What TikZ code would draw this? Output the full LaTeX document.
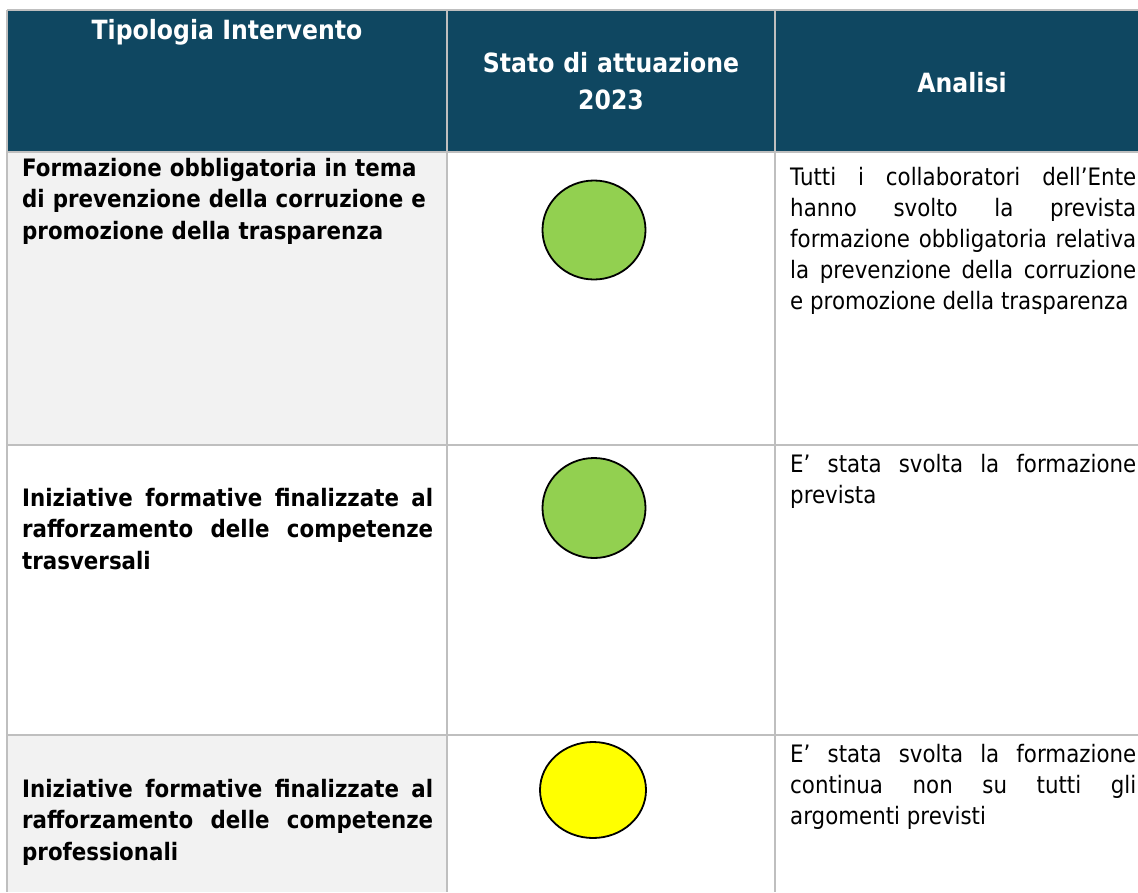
\documentclass[tikz,border=0pt]{standalone}
\usepackage{fontspec}
\setmainfont{DejaVu Sans}[FakeStretch=0.89]
\usepackage{xcolor}
\usepackage{tikz}
\usetikzlibrary{shapes.geometric}

\definecolor{hdrblue}{HTML}{0F4761}
\definecolor{cellgray}{HTML}{F2F2F2}
\definecolor{gridgray}{HTML}{BFBFBF}
\definecolor{okgreen}{HTML}{92D050}
\definecolor{partyellow}{HTML}{FFFF00}

\tolerance=10000
\hbadness=10000
\hyphenpenalty=10000

\begin{document}
\begin{tikzpicture}[
    x=1pt, y=-1pt,
    head/.style={text=white, font=\fontsize{26.5}{37}\selectfont\bfseries, align=center, inner sep=0pt, anchor=base},
    tipo/.style={font=\fontsize{24}{31.5}\selectfont\bfseries, text width=411pt, inner sep=0pt, anchor=base west},
    analisi/.style={font=\fontsize{24}{31}\selectfont, text width=346pt, align=justify, inner sep=0pt, anchor=base west},
    stato/.style={ellipse, draw=black, line width=1.8pt, inner sep=0pt, minimum width=103pt, minimum height=99pt},
    tabline/.style={draw=gridgray, line width=1.5pt}
]
    % page
    \fill[white] (0,0) rectangle (1138,892);
    \useasboundingbox (0,0) rectangle (1138,892);

    % cell fills
    \fill[hdrblue] (7,10) rectangle (1138,152);
    \fill[cellgray] (7,152) rectangle (447,445);
    \fill[cellgray] (7,735) rectangle (447,892);

    % table rules
    \foreach \y in {10,152,445,735}
        \draw[tabline] (7,\y) -- (1138,\y);
    \foreach \x in {7,447,775}
        \draw[tabline] (\x,10) -- (\x,892);

    % header
    \node[head] (hTipo) at (227,39) {Tipologia Intervento};
    \node[head, text width=320pt] (hStato) at (611,72) {Stato di attuazione\\2023};
    \node[head] (hAnalisi) at (962,92) {Analisi};

    % tipologia intervento
    \node[tipo, align=left] (tipo1) at (22,176) {Formazione obbligatoria in tema\\di prevenzione della corruzione e\\promozione della trasparenza};
    \node[tipo, align=justify] (tipo2) at (22,506) {Iniziative formative finalizzate al\linebreak rafforzamento delle competenze\linebreak trasversali};
    \node[tipo, align=justify] (tipo3) at (22,797) {Iniziative formative finalizzate al\linebreak rafforzamento delle competenze\linebreak professionali};

    % stato di attuazione
    \node[stato, fill=okgreen] (stato1) at (594,230) {};
    \node[stato, fill=okgreen, minimum height=100pt] (stato2) at (594,508) {};
    \node[stato, fill=partyellow, minimum width=106pt, minimum height=96pt] (stato3) at (593,790) {};

    % analisi
    \node[analisi] (anal1) at (790,185) {Tutti i collaboratori dell’Ente\linebreak hanno svolto la prevista\linebreak formazione obbligatoria relativa\linebreak la prevenzione della corruzione\linebreak e promozione della trasparenza};
    \node[analisi] (anal2) at (790,472) {E’ stata svolta la formazione\linebreak prevista};
    \node[analisi] (anal3) at (790,762) {E’ stata svolta la formazione\linebreak continua non su tutti gli\linebreak argomenti previsti};
\end{tikzpicture}
\end{document}
